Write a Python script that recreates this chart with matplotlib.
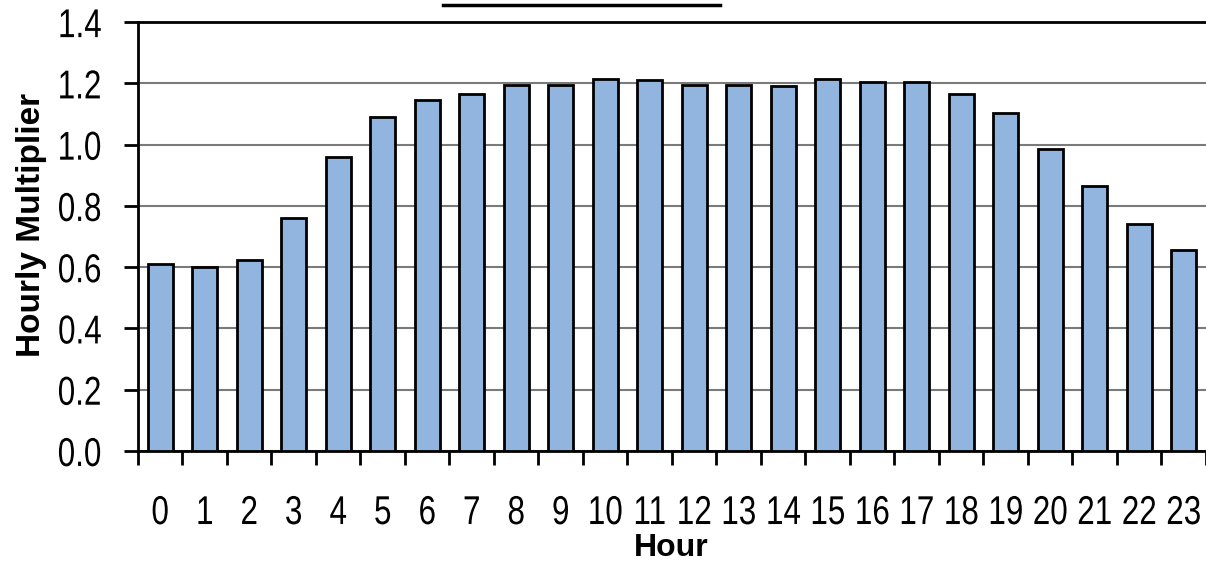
import numpy as np
import matplotlib
matplotlib.use("Agg")
import matplotlib.pyplot as plt
from matplotlib.lines import Line2D
from matplotlib.patheffects import AbstractPathEffect
from matplotlib.transforms import Affine2D

hours = list(range(24))
multiplier = [0.61, 0.60, 0.625, 0.76, 0.96, 1.09, 1.145, 1.165, 1.195, 1.195,
              1.215, 1.21, 1.195, 1.195, 1.19, 1.215, 1.205, 1.205, 1.165, 1.105,
              0.985, 0.865, 0.74, 0.655]
yticks = [0.0, 0.2, 0.4, 0.6, 0.8, 1.0, 1.2, 1.4]

plt.rcParams['font.family'] = ['Liberation Sans', 'DejaVu Sans']


class Narrow(AbstractPathEffect):
    # squeeze text sideways, no narrow font installed
    def __init__(self, sx=0.8, anchor='center'):
        super().__init__()
        self.sx = sx
        self.anchor = anchor

    def draw_path(self, renderer, gc, tpath, affine, rgbFace=None):
        verts = tpath.vertices
        if tpath.codes is not None:
            verts = verts[tpath.codes != 79]
        if len(verts) == 0:
            return
        xs = affine.transform(verts)[:, 0]
        x0 = xs.max() if self.anchor == 'right' else (xs.min() + xs.max()) / 2
        t = affine + Affine2D().translate(-x0, 0).scale(self.sx, 1).translate(x0, 0)
        renderer.draw_path(gc, tpath, t, rgbFace)


fig = plt.figure(figsize=(12.06, 5.65), dpi=100)
ax = fig.add_axes([0.1144, 0.2018, 0.8856, 0.759])

ax.bar(hours, multiplier, width=0.56, color='#92b5e0', edgecolor='black',
       linewidth=2, zorder=3)

ax.set_xlim(-0.5, 23.5)
ax.set_ylim(0, 1.4)
ax.set_yticks(yticks)
ax.set_yticklabels(['%.1f' % v for v in yticks], fontsize=29)
ax.yaxis.grid(True, color='#7a7a7a', linewidth=1.5, zorder=0)

# ticks sit on the category boundaries, labels in the middle
ax.set_xticks(np.arange(-0.5, 24, 1.0))
ax.set_xticklabels([])
ax.set_xticks(hours, minor=True)
ax.set_xticklabels([str(h) for h in hours], minor=True, fontsize=29)
ax.tick_params(axis='x', which='minor', length=0, pad=31)
ax.tick_params(axis='x', which='major', direction='out', length=10, width=2)
ax.tick_params(axis='y', direction='out', length=10, width=2, pad=16)

for lab in ax.get_xticklabels(minor=True):
    lab.set_path_effects([Narrow(0.78)])
for lab in ax.get_yticklabels():
    lab.set_path_effects([Narrow(0.78, 'right')])

for s in ['left', 'bottom', 'top']:
    ax.spines[s].set_linewidth(2)
ax.spines['right'].set_visible(False)

ax.set_ylabel('Hourly Multiplier', fontsize=24, fontweight='bold', va='center')
ax.yaxis.set_label_coords(-0.1, 0.527)
ax.set_xlabel('Hour', fontsize=23, fontweight='bold', va='center')
ax.xaxis.set_label_coords(0.499, -0.226)

# underline of the (cut off) title at the very top
fig.add_artist(Line2D([443 / 1206, 720 / 1206], [1 - 5 / 565, 1 - 5 / 565],
                      color='black', linewidth=2.5))

fig.savefig('out.png', dpi=100)
